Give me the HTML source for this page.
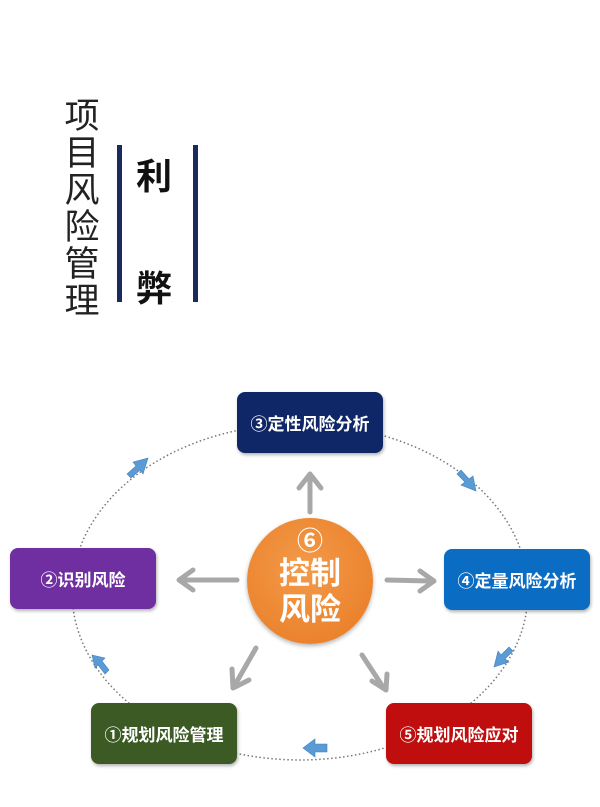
<!DOCTYPE html>
<html><head><meta charset="utf-8"><style>
html,body{margin:0;padding:0;background:#fff;}
body{width:600px;height:807px;position:relative;overflow:hidden;font-family:"Liberation Sans","Noto Sans CJK SC",sans-serif;}
.vt{position:absolute;left:62px;top:98px;width:40px;font-size:35px;line-height:37px;color:#222;text-align:center;}
.bar{position:absolute;top:145px;width:5px;height:157px;background:#1b2a5c;}
.lb{position:absolute;left:136px;font-size:36px;font-weight:bold;color:#111;}
.box{position:absolute;width:146px;height:61px;border-radius:8px;color:#fff;font-weight:bold;font-size:17px;display:flex;align-items:center;justify-content:center;box-shadow:1px 2px 3px rgba(0,0,0,.3);}
.c{position:absolute;left:247px;top:518px;width:126px;height:126px;border-radius:50%;background:radial-gradient(circle at 45% 40%,#f39a4a,#e87a22);color:#fff;font-weight:bold;text-align:center;box-shadow:0 2px 4px rgba(0,0,0,.3);}
</style></head><body>
<div class="vt">项<br>目<br>风<br>险<br>管<br>理</div>
<div class="bar" style="left:117px"></div>
<div class="bar" style="left:193px"></div>
<div class="lb" style="top:148px">利</div>
<div class="lb" style="top:260px">弊</div>

<svg style="position:absolute;left:0;top:0" width="600" height="807">
<ellipse cx="300" cy="592" rx="228" ry="168" fill="none" stroke="#777" stroke-width="1.5" stroke-dasharray="1.5 2.5"/>
<g stroke="#a8a8a8" stroke-width="5" fill="none" stroke-linecap="round" stroke-linejoin="round">
<line x1="310" y1="512" x2="310" y2="478"/><polyline points="299,488 310,474 321,488"/>
<line x1="237" y1="580" x2="183" y2="580"/><polyline points="193,570 179,580 193,590"/>
<line x1="387" y1="580" x2="430" y2="581"/><polyline points="420,571 434,581 420,591"/>
<line x1="256" y1="648" x2="236" y2="683"/><polyline points="232,669 233,688 249,680"/>
<line x1="362" y1="655" x2="383" y2="687"/><polyline points="372,681 386,690 387,674"/>
</g>
<g fill="#5a9bd5" stroke="#3f7fbf" stroke-width="0.6">
<polygon points="148,458 133,462 136,466 127,474 131,478 140,470 143,474"/>
<polygon points="476,491 473,476 469,479 461,470 457,474 465,482 461,485"/>
<polygon points="494,667 509,662 505,659 513,651 509,647 501,655 498,651"/>
<polygon points="303,748 315,739 315,744 327,744 327,752 315,752 315,757"/>
<polygon points="92,655 105,658 102,661 109,670 105,674 98,665 95,668"/>
</g>
</svg>

<div class="box" style="left:237px;top:392px;background:#0f2766;">③定性风险分析</div>
<div class="box" style="left:10px;top:548px;background:#6f2fa0;">②识别风险</div>
<div class="box" style="left:444px;top:549px;background:#0b6cc4;">④定量风险分析</div>
<div class="box" style="left:91px;top:703px;background:#3b5a24;">①规划风险管理</div>
<div class="box" style="left:386px;top:703px;background:#c00d0d;">⑤规划风险应对</div>
<div class="c"><div style="font-size:26px;margin-top:8px;line-height:30px">⑥</div><div style="font-size:31px;line-height:36px">控制<br>风险</div></div>
</body></html>
